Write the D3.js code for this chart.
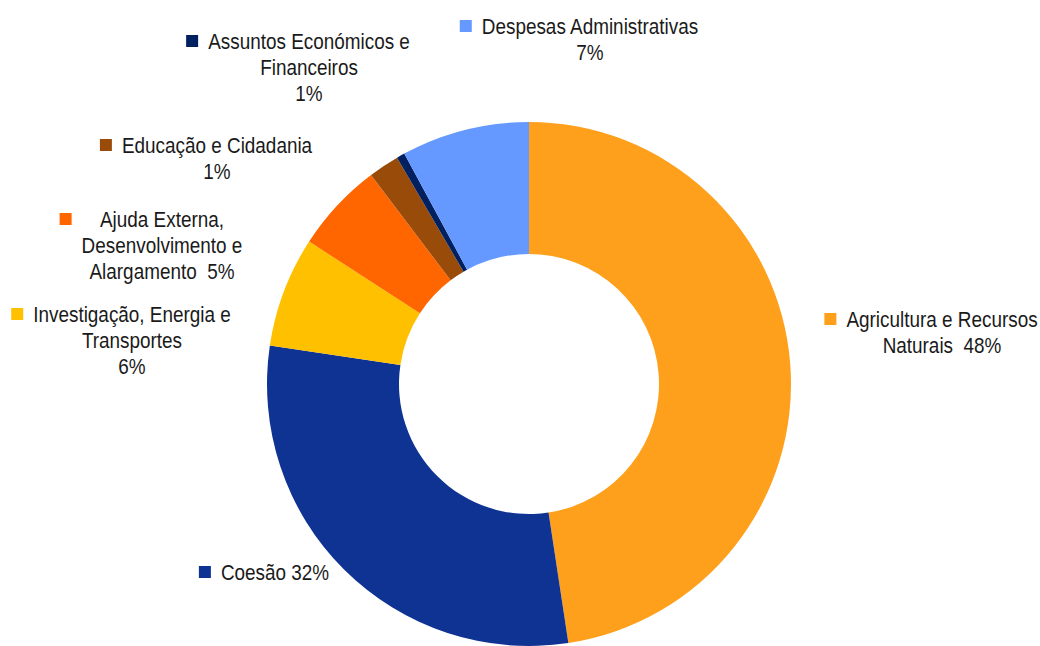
<html>
<head>
	<meta charset="utf-8">
	<script src="https://d3js.org/d3.v7.min.js"></script>
	<style>
		body { margin: 0; background: #fff; }
		text { font-family: "Liberation Sans", Arial, sans-serif; font-size: 22px; fill: #1a1a1a; white-space: pre; }
	</style>
</head>
<body>
	<svg width="1040" height="646" id="chart"></svg>
	<script>
		// slices clockwise from 12 o'clock
		var categories = ['Agricultura e Recursos Naturais', 'Coesão', 'Investigação, Energia e Transportes',
			'Ajuda Externa, Desenvolvimento e Alargamento', 'Educação e Cidadania',
			'Assuntos Económicos e Financeiros', 'Despesas Administrativas'];
		var values = [47.6, 29.75, 6.8, 5.55, 1.9, 0.5, 7.9];
		var colors = ['#ffa01c', '#0f3393', '#ffc000', '#ff6600', '#994c0a', '#002060', '#6699ff'];
		// label texts as printed on the chart
		var labelLines = [
			['Agricultura e Recursos', 'Naturais  48%'],
			['Coesão 32%'],
			['Investigação, Energia e', 'Transportes', '6%'],
			['Ajuda Externa,', 'Desenvolvimento e', 'Alargamento  5%'],
			['Educação e Cidadania', '1%'],
			['Assuntos Económicos e', 'Financeiros', '1%'],
			['Despesas Administrativas', '7%']
		];
		var labelPos = [[942, 327], [275, 580], [132, 322], [162, 227], [217, 153], [309, 49], [590, 34]];

		var svg = d3.select('#chart');
		var cx = 529, cy = 384, outerR = 262, innerR = 130;
		var lineH = 26;
		var squeeze = 0.86; // narrow face look

		var pie = d3.pie().sort(null).value(function(d) { return d; });
		var arc = d3.arc().innerRadius(innerR).outerRadius(outerR);

		svg.append('g')
			.attr('transform', 'translate(' + cx + ',' + cy + ')')
			.selectAll('path')
			.data(pie(values))
			.enter().append('path')
			.attr('d', arc)
			.attr('fill', function(d, i) { return colors[i]; });

		var labels = svg.selectAll('g.lbl')
			.data(categories)
			.enter().append('g')
			.attr('class', 'lbl');

		labels.each(function(d, i) {
			var g = d3.select(this);
			var p = labelPos[i];
			var maxW = 0;
			labelLines[i].forEach(function(line, j) {
				var t = g.append('text')
					.attr('transform', 'translate(' + p[0] + ',' + (p[1] + j * lineH) + ') scale(' + squeeze + ',1)')
					.attr('text-anchor', 'middle')
					.text(line);
				maxW = Math.max(maxW, t.node().getComputedTextLength() * squeeze);
			});
			g.append('rect')
				.attr('x', p[0] - maxW / 2 - 22)
				.attr('y', p[1] - 14)
				.attr('width', 12)
				.attr('height', 12)
				.attr('fill', colors[i]);
		});
	</script>
</body>
</html>
